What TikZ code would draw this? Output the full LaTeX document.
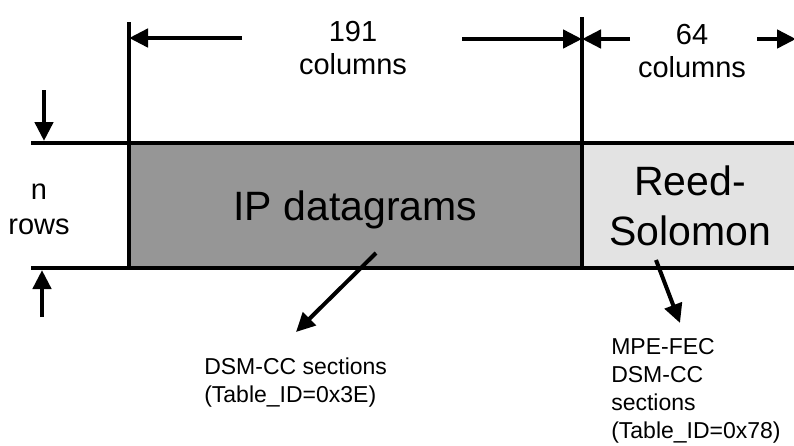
\documentclass[tikz,border=0pt]{standalone}
\usepackage{fontspec}
\setmainfont{Liberation Sans}
\usetikzlibrary{positioning, arrows.meta}
\definecolor{ipgray}{HTML}{969696}
\definecolor{rsgray}{HTML}{E3E3E3}

\begin{document}
\begin{tikzpicture}[x=1pt,y=-1pt,line width=4.5pt,
    >={Triangle[length=19pt,width=18pt]},
    block/.style={draw,rectangle,inner sep=0pt,outer sep=0pt,minimum height=125pt,
        font=\fontsize{41}{50}\selectfont,align=center,text depth=0pt},
    dimtext/.style={font=\fontsize{29}{33}\selectfont,align=center,inner sep=0pt},
    note/.style={font=\fontsize{23}{28}\selectfont,align=left,inner sep=0pt,anchor=north west}]
   \useasboundingbox (0,0) rectangle (794,445);
   \clip (0,0) rectangle (794,445);

   % frame blocks
   \node[block,fill=ipgray,minimum width=453pt] (ip) at (355.5,205.5) {IP datagrams};
   \node[block,fill=rsgray,minimum width=216pt,anchor=west] (rs) at (ip.east) {Reed-\\Solomon};

   % labels
   \node[dimtext] (cols191) at (353,48) {191\\columns};
   \node[dimtext] (cols64) at (692,51) {64\\columns};
   \node[dimtext,font=\fontsize{29}{35}\selectfont] (rows) at (39,209) {n\\rows};
   \node[note] (dsm) at (202,355.5) {DSM-CC sections\\(Table\_ID=0x3E)};
   \node[note] (mpe) at (609,336.5) {MPE-FEC\\DSM-CC\\sections\\(Table\_ID=0x78)};

   % helper points
   \coordinate (ltop) at (129,22);
   \coordinate (dtop) at (582,17);
   \coordinate (lext) at (31,143);
   \coordinate (lextb) at (31,268);
   \coordinate (a1) at (242,38);
   \coordinate (a2) at (462,39);
   \coordinate (a3) at (630,39);
   \coordinate (a4) at (757,39);
   \coordinate (a4e) at (796,39);
   \coordinate (dn) at (44,90);
   \coordinate (dnt) at (44,141);
   \coordinate (up) at (42,317);
   \coordinate (upt) at (42,270);
   \coordinate (ipa) at (376,253);
   \coordinate (ipt) at (296,332);
   \coordinate (rsa) at (656,260);
   \coordinate (rst) at (680,323);

   % extension lines
   \draw (ip.north west) -- (ltop);
   \draw (ip.north east) -- (dtop);
   \draw (lext) -- (ip.north west);
   \draw (lextb) -- (ip.south west);

   % dimension arrows
   \path[->]
    (a1) edge (ltop |- a1)
    (a2) edge (dtop |- a2)
    (a3) edge (dtop |- a3)
    (a4) edge (a4e)
    (dn) edge (dnt)
    (up) edge (upt);

   % pointers
   \path[->,line width=4pt]
    (ipa) edge (ipt)
    (rsa) edge (rst);
\end{tikzpicture}
\end{document}
